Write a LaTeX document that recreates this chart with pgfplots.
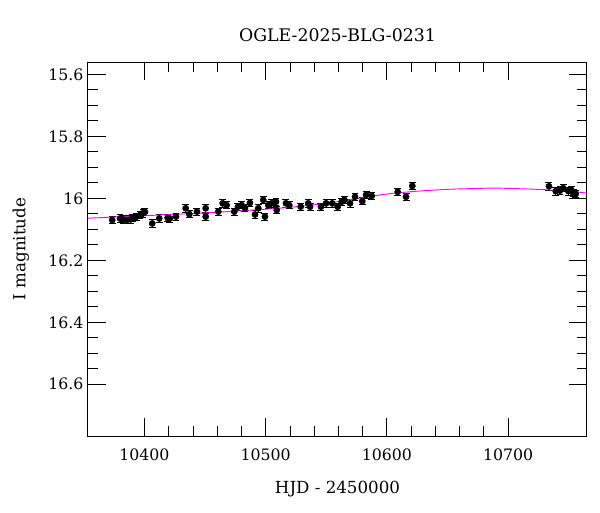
\documentclass[border=0pt]{standalone}
\usepackage{pgfplots}
\pgfplotsset{compat=1.18}
\usepackage{fontspec}
\setmainfont{DejaVu Serif}
\definecolor{mag}{RGB}{255,0,255}
\begin{document}
\begin{tikzpicture}
\begin{axis}[
  scale only axis,
  width=374.25pt, height=280.5pt,
  xmin=10353.4, xmax=10765.1,
  ymin=15.560, ymax=16.767,
  y dir=reverse,
  scaled x ticks=false,
  xtick={10400,10500,10600,10700},
  xticklabels={10400,10500,10600,10700},
  minor x tick num=4,
  ytick={15.6,15.8,16,16.2,16.4,16.6},
  yticklabels={15.6,15.8,16,16.2,16.4,16.6},
  minor y tick num=3,
  tick align=inside,
  major tick length=13.5pt,
  minor tick length=7.5pt,
  every tick/.style={black, line width=0.6pt},
  axis line style={line width=0.75pt},
  /pgf/number format/assume math mode=true,
  /pgf/number format/set thousands separator={},
  ticklabel style={font=\fontsize{11.8}{14}\selectfont},
  xticklabel style={yshift=-6pt},
  clip=false,
]
\addplot[only marks, mark=*, mark size=2.3pt, black,
  error bars/.cd, y dir=both, y explicit,
  error bar style={line width=0.6pt, black},
  error mark options={rotate=90, mark size=2.6pt, line width=0.6pt, black}]
  table[x=x, y=y, y error=e] {
x y e
10373.4 16.070 0.012
10379.8 16.065 0.012
10382.5 16.068 0.012
10385.3 16.070 0.012
10388.6 16.068 0.012
10390.5 16.063 0.012
10393.6 16.059 0.012
10396.3 16.054 0.012
10398.8 16.048 0.012
10400.4 16.044 0.012
10406.4 16.081 0.014
10412.2 16.065 0.012
10419.1 16.063 0.012
10421.0 16.065 0.012
10426.0 16.059 0.012
10434.0 16.032 0.012
10437.0 16.051 0.012
10443.3 16.043 0.012
10450.5 16.032 0.012
10450.5 16.059 0.012
10460.9 16.043 0.012
10464.5 16.016 0.012
10467.8 16.022 0.012
10474.1 16.043 0.012
10477.1 16.027 0.012
10480.2 16.022 0.012
10482.9 16.031 0.012
10487.0 16.015 0.012
10491.2 16.052 0.012
10493.9 16.032 0.012
10498.0 16.005 0.012
10499.4 16.059 0.012
10502.1 16.022 0.012
10505.0 16.016 0.012
10508.5 16.011 0.012
10509.1 16.038 0.012
10516.7 16.016 0.012
10519.5 16.022 0.012
10528.9 16.027 0.012
10535.1 16.016 0.012
10536.6 16.027 0.012
10545.6 16.027 0.012
10549.8 16.016 0.012
10554.9 16.016 0.012
10559.4 16.027 0.012
10562.7 16.011 0.012
10564.9 16.005 0.012
10569.6 16.016 0.012
10573.7 15.995 0.012
10579.7 16.009 0.012
10582.8 15.989 0.012
10587.5 15.992 0.012
10608.9 15.979 0.012
10615.8 15.995 0.012
10621.0 15.960 0.012
10733.7 15.961 0.012
10739.3 15.977 0.012
10742.8 15.975 0.012
10745.5 15.967 0.012
10749.7 15.977 0.012
10752.0 15.972 0.012
10753.8 15.983 0.012
10755.8 15.986 0.012
};
\addplot[mag, line width=0.7pt, smooth, no markers] coordinates {
(10353.4,16.064) (10400,16.056) (10450,16.047) (10500,16.035)
(10525,16.027) (10550,16.016) (10575,16.001) (10600,15.986)
(10625,15.977) (10650,15.971) (10675,15.968) (10690,15.967)
(10710,15.969) (10730,15.972) (10750,15.977) (10765.1,15.983)
};
\node[anchor=base, yshift=15.75pt, font=\fontsize{13}{15}\selectfont] at (axis description cs:0.5,1) {OGLE-2025-BLG-0231};
\node[anchor=base, font=\fontsize{12.5}{15}\selectfont] at ([yshift=-42.75pt]axis description cs:0.5,0) {HJD - 2450000};
\node[anchor=base, rotate=90, font=\fontsize{12.5}{15}\selectfont] at ([xshift=-47pt]axis description cs:0,0.5) {I magnitude};
\end{axis}
\path ([shift={(-66pt,-57pt)}]current axis.south west) rectangle ([shift={(9.75pt,46.5pt)}]current axis.north east);
\end{tikzpicture}
\end{document}
